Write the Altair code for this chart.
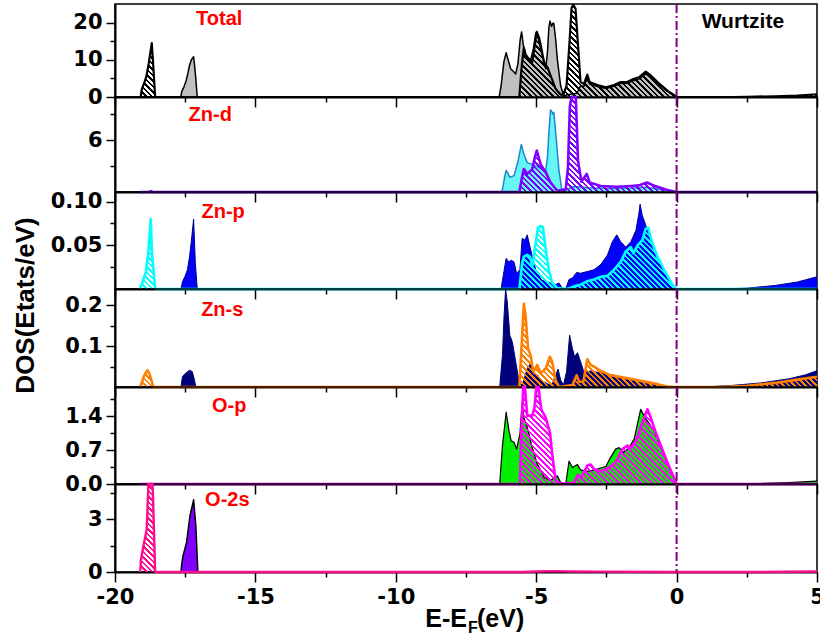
import json
import altair as alt
import pandas as pd

# ---------------- data: (E-EF, DOS) ----------------
TOTAL_SOLID = [(-19.1, 0), (-17.66, 0), (-17.62, 1.5), (-17.55, 2.6), (-17.47, 4.3), (-17.4, 6.5), (-17.35, 8.4),
               (-17.28, 10.0), (-17.2, 10.8), (-17.14, 6.5), (-17.07, 0), (-6.32, 0), (-6.25, 3), (-6.15, 9.5),
               (-6.07, 11.9), (-6.0, 10), (-5.91, 7.6), (-5.8, 6.8), (-5.73, 6.2), (-5.65, 9), (-5.57, 15.5),
               (-5.52, 17.5), (-5.46, 14), (-5.38, 11.6), (-5.28, 10.5), (-5.2, 9.8), (-5.1, 13), (-5.02, 17),
               (-4.98, 17.5), (-4.9, 15), (-4.84, 13), (-4.75, 10), (-4.66, 7.6), (-4.6, 12), (-4.55, 18.5),
               (-4.51, 20.4), (-4.45, 19), (-4.4, 19.9), (-4.37, 19.7), (-4.3, 15), (-4.25, 10.3), (-4.18, 6),
               (-4.13, 3), (-4.05, 1), (-3.98, 0.3), (-3.9, 0.6), (-3.75, 0.8), (-3.55, 1.0), (-3.42, 3.0),
               (-3.3, 2.8), (-3.18, 5.2), (-3.1, 3.5), (-2.82, 2.8), (-2.52, 2.3), (-2.23, 2.9), (-1.99, 3.6),
               (-1.75, 3.7), (-1.51, 4.5), (-1.34, 4.8), (-1.1, 6.2), (-0.92, 5.3), (-0.68, 3.6), (-0.33, 1.5),
               (-0.03, 0.1), (0.0, 0), (5.0, 0)]
TOTAL_HATCH = [(-19.1, 0), (-19.08, 0.3), (-19.05, 2.0), (-18.95, 4.0), (-18.88, 5.6), (-18.8, 9), (-18.73, 12.5),
               (-18.69, 14.5), (-18.65, 10), (-18.57, 0), (-5.6, 0), (-5.52, 8), (-5.44, 13.2), (-5.38, 11.5),
               (-5.32, 10.7), (-5.14, 9.4), (-5.05, 14), (-4.98, 17.5), (-4.9, 16), (-4.84, 13.9), (-4.72, 9.4),
               (-4.6, 8), (-4.49, 5.8), (-4.31, 2.2), (-4.15, 0.8), (-4.05, 0.4), (-3.92, 3), (-3.82, 14),
               (-3.74, 24), (-3.68, 24.8), (-3.6, 23.8), (-3.51, 13.9), (-3.42, 4.0), (-3.3, 3.5), (-3.18, 6.0),
               (-3.1, 4.0), (-2.82, 3.2), (-2.52, 2.6), (-2.23, 3.2), (-1.99, 4.0), (-1.75, 4.1), (-1.51, 4.9),
               (-1.34, 5.3), (-1.1, 6.8), (-0.92, 5.8), (-0.68, 4.0), (-0.33, 1.7), (-0.03, 0.2), (0, 0),
               (2.0, 0), (2.5, 0.05), (3.5, 0.2), (4.3, 0.4), (5, 0.7)]
ZND_SOLID = [(-19.1, 0), (-6.25, 0), (-6.2, 0.3), (-6.12, 1.8), (-6.07, 2.5), (-6.0, 2.1), (-5.94, 1.7),
             (-5.79, 1.9), (-5.65, 3.5), (-5.53, 5.5), (-5.44, 4.4), (-5.32, 3.4), (-5.14, 3.2), (-5.0, 3.0),
             (-4.84, 2.7), (-4.66, 2.5), (-4.6, 4), (-4.55, 6.7), (-4.49, 9.5), (-4.44, 9.3), (-4.4, 9.0),
             (-4.37, 9.2), (-4.28, 5.9), (-4.19, 2.5), (-4.1, 0.5), (-4.05, 0.1), (-3.9, 0.3), (-3.7, 0.6),
             (-3.5, 0.6), (-3.2, 0.5), (-2.5, 0.4), (-1.5, 0.45), (-1.1, 0.55), (-0.5, 0.3), (0, 0), (5, 0)]
ZND_HATCH = [(-19.1, 0), (-18.8, 0), (-18.72, 0.1), (-18.65, 0), (-5.6, 0), (-5.5, 1.8), (-5.44, 2.65),
             (-5.32, 2.1), (-5.14, 2.65), (-5.05, 4.0), (-4.98, 4.8), (-4.84, 3.2), (-4.66, 2.3), (-4.49, 1.1),
             (-4.25, 0.15), (-3.95, 0.3), (-3.87, 2.8), (-3.8, 10), (-3.74, 14), (-3.66, 14.5), (-3.59, 12),
             (-3.51, 3.6), (-3.39, 1.2), (-3.2, 2.1), (-3.1, 1.1), (-2.7, 0.7), (-2.11, 0.6), (-1.63, 0.7),
             (-1.34, 0.77), (-1.06, 1.1), (-0.8, 0.73), (-0.33, 0.23), (0, 0), (5, 0)]
ZNP_SOLID = [(-19.1, 0), (-17.65, 0), (-17.6, 0.008), (-17.5, 0.015), (-17.42, 0.022), (-17.35, 0.036),
             (-17.28, 0.055), (-17.2, 0.08), (-17.14, 0.03), (-17.07, 0), (-6.25, 0), (-6.15, 0.02),
             (-6.07, 0.035), (-5.97, 0.031), (-5.89, 0.033), (-5.79, 0.031), (-5.7, 0.018), (-5.58, 0.022),
             (-5.5, 0.058), (-5.4, 0.056), (-5.32, 0.062), (-5.22, 0.048), (-5.14, 0.037), (-5.0, 0.02),
             (-4.8, 0.01), (-4.6, 0.008), (-4.49, 0.007), (-4.31, 0.005), (-4.19, 0.007), (-4.07, 0.001),
             (-3.95, 0.0), (-3.83, 0.011), (-3.71, 0.0125), (-3.56, 0.019), (-3.42, 0.018), (-3.18, 0.02),
             (-2.94, 0.022), (-2.7, 0.028), (-2.46, 0.039), (-2.29, 0.054), (-2.13, 0.062), (-1.99, 0.054),
             (-1.81, 0.048), (-1.63, 0.054), (-1.45, 0.067), (-1.35, 0.085), (-1.3, 0.097), (-1.22, 0.084),
             (-1.1, 0.073), (-0.92, 0.056), (-0.68, 0.037), (-0.44, 0.02), (-0.15, 0.003), (0, 0), (1.5, 0),
             (2.5, 0.001), (3.5, 0.004), (4.3, 0.008), (5, 0.014)]
ZNP_HATCH = [(-19.1, 0), (-19.08, 0.003), (-19.0, 0.01), (-18.9, 0.02), (-18.82, 0.04), (-18.76, 0.065),
             (-18.73, 0.08), (-18.68, 0.04), (-18.57, 0), (-5.6, 0), (-5.5, 0.03), (-5.44, 0.037),
             (-5.32, 0.039), (-5.22, 0.037), (-5.14, 0.026), (-5.02, 0.052), (-4.94, 0.07), (-4.84, 0.072),
             (-4.76, 0.071), (-4.66, 0.045), (-4.55, 0.022), (-4.43, 0.007), (-4.25, 0.001), (-3.89, 0),
             (-3.65, 0.003), (-3.42, 0.005), (-3.18, 0.009), (-2.94, 0.011), (-2.7, 0.014), (-2.46, 0.015),
             (-2.23, 0.022), (-1.99, 0.031), (-1.81, 0.043), (-1.63, 0.048), (-1.54, 0.041), (-1.39, 0.05),
             (-1.22, 0.056), (-1.1, 0.069), (-1.01, 0.07), (-0.86, 0.052), (-0.68, 0.037), (-0.44, 0.022),
             (-0.15, 0.005), (0, 0), (5, 0)]
ZNS_SOLID = [(-19.1, 0), (-17.65, 0), (-17.6, 0.025), (-17.5, 0.033), (-17.35, 0.041), (-17.25, 0.038),
             (-17.18, 0.02), (-17.12, 0), (-6.3, 0), (-6.2, 0.08), (-6.15, 0.167), (-6.09, 0.24), (-6.03, 0.208),
             (-5.94, 0.127), (-5.85, 0.11), (-5.73, 0.062), (-5.61, 0.013), (-5.5, 0.005), (-5.32, 0.045),
             (-5.2, 0.058), (-5.1, 0.03), (-4.96, 0.03), (-4.8, 0.015), (-4.6, 0.008), (-4.45, 0.003),
             (-4.31, 0.029), (-4.22, 0.044), (-4.13, 0.017), (-4.03, 0.005), (-3.92, 0.037), (-3.81, 0.127),
             (-3.71, 0.094), (-3.63, 0.074), (-3.53, 0.084), (-3.42, 0.062), (-3.3, 0.036), (-3.06, 0.039),
             (-2.82, 0.036), (-2.52, 0.031), (-2.23, 0.029), (-1.87, 0.023), (-1.28, 0.013), (-0.68, 0.005),
             (-0.2, 0.001), (0, 0), (1.0, 0), (2.0, 0.004), (3.0, 0.01), (4.0, 0.02), (4.6, 0.03), (5, 0.04)]
ZNS_HATCH = [(-19.1, 0), (-19.05, 0.01), (-18.98, 0.025), (-18.9, 0.036), (-18.84, 0.041), (-18.76, 0.03),
             (-18.63, 0), (-5.6, 0), (-5.5, 0.127), (-5.44, 0.204), (-5.38, 0.176), (-5.29, 0.094),
             (-5.2, 0.078), (-5.1, 0.037), (-4.96, 0.054), (-4.84, 0.033), (-4.66, 0.046), (-4.51, 0.074),
             (-4.43, 0.062), (-4.31, 0.017), (-4.19, 0.0), (-3.71, 0.005), (-3.56, 0.029), (-3.47, 0.013),
             (-3.32, 0.013), (-3.18, 0.068), (-3.06, 0.054), (-2.94, 0.05), (-2.7, 0.039), (-2.35, 0.029),
             (-1.87, 0.023), (-1.28, 0.015), (-0.68, 0.007), (-0.33, 0.001), (0, 0), (1.5, 0), (2.5, 0.003),
             (3.5, 0.01), (4.3, 0.018), (5, 0.025)]
OP_SOLID = [(-19.1, 0), (-6.3, 0), (-6.2, 0.8), (-6.07, 1.48), (-5.97, 1.1), (-5.89, 0.89), (-5.79, 0.86),
            (-5.7, 0.72), (-5.58, 1.03), (-5.5, 1.68), (-5.44, 1.37), (-5.32, 1.17), (-5.14, 0.75),
            (-4.96, 0.41), (-4.72, 0.14), (-4.49, 0.07), (-4.25, 0.17), (-4.13, 0.03), (-3.95, 0.0),
            (-3.83, 0.47), (-3.71, 0.34), (-3.53, 0.4), (-3.42, 0.29), (-3.24, 0.26), (-3.06, 0.27),
            (-2.82, 0.31), (-2.52, 0.36), (-2.35, 0.55), (-2.17, 0.72), (-2.05, 0.75), (-1.89, 0.65),
            (-1.69, 0.75), (-1.51, 0.93), (-1.28, 1.54), (-1.16, 1.41), (-1.04, 1.3), (-0.8, 1.1),
            (-0.56, 0.75), (-0.27, 0.34), (0, 0), (1.5, 0), (3, 0.01), (4, 0.03), (5, 0.06)]
OP_HATCH = [(-19.1, 0), (-5.58, 0), (-5.52, 1.2), (-5.46, 2.1), (-5.4, 2.1), (-5.32, 1.41), (-5.14, 1.41),
            (-5.06, 1.58), (-5.0, 2.1), (-4.92, 2.1), (-4.82, 1.54), (-4.66, 1.37), (-4.51, 1.06),
            (-4.43, 0.62), (-4.31, 0.07), (-4.1, 0.0), (-3.65, 0.03), (-3.51, 0.19), (-3.4, 0.12),
            (-3.18, 0.38), (-3.06, 0.4), (-2.94, 0.31), (-2.7, 0.26), (-2.4, 0.34), (-2.17, 0.45),
            (-1.93, 0.72), (-1.75, 0.79), (-1.63, 0.75), (-1.45, 0.89), (-1.28, 1.17), (-1.04, 1.54),
            (-0.92, 1.37), (-0.74, 1.06), (-0.56, 0.79), (-0.33, 0.45), (0, 0), (5, 0)]
O2S_SOLID = [(-19.1, 0), (-17.65, 0), (-17.62, 0.5), (-17.58, 0.9), (-17.45, 1.7), (-17.33, 3.2), (-17.2, 4.1),
             (-17.12, 2.6), (-17.05, 0), (5, 0)]
O2S_HATCH = [(-19.1, 0), (-19.08, 0.64), (-19.01, 1.3), (-18.87, 2.43), (-18.81, 6), (-18.74, 9), (-18.66, 9),
             (-18.57, 0), (-5.5, 0), (-5.0, 0.03), (-4.4, 0.05), (-3.8, 0.03), (-3.0, 0.02), (0, 0), (3, 0),
             (5, 0.03)]

PANEL_NAMES = ["Total", "Zn-d", "Zn-p", "Zn-s", "O-p", "O-2s"]
PANEL_NAME_X = [-16.29, -16.61, -16.15, -16.18, -15.93, -16.0]
PANEL_YMAX = [25, 11, 0.111, 0.24, 2.0, 5.0]
Y_MAJOR = [[0, 10, 20], [6], [0.05, 0.10], [0.1, 0.2], [0.0, 0.7, 1.4], [0, 3]]
Y_MINOR = [[5, 15], [3, 9], [0.025, 0.075], [0.05, 0.15], [0.35, 1.05, 1.75], [1.5, 4.5]]
Y_FORMAT = ["d", "d", ".2f", ".1f", ".1f", "d"]
X_MAJOR = [-20, -15, -10, -5, 0, 5]
X_MINOR = [-17.5, -12.5, -7.5, -2.5, 2.5]
SERIES = [(TOTAL_SOLID, TOTAL_HATCH), (ZND_SOLID, ZND_HATCH), (ZNP_SOLID, ZNP_HATCH),
          (ZNS_SOLID, ZNS_HATCH), (OP_SOLID, OP_HATCH), (O2S_SOLID, O2S_HATCH)]

# ---------------- styles / layout ----------------
PLOT_W = 702
PANEL_H = [93, 95, 97, 98, 97, 88]
NAME_Y = [21, 24, 26, 27, 25, 22]
SOLID_FILL = ["#C0C0C0", "#66F6F6", "#0000FF", "#00007A", "#00F000", "#7F00FF"]
SOLID_LINE = ["#000000", "#1E88CC", "#00008B", "#00007A", "#000000", "#000000"]
SOLID_LW = [1.5, 1.5, 1.0, 1.0, 1.2, 1.5]
HATCH_COL = ["#000000", "#8000FF", "#00FFFF", "#FF8000", "#FF00FF", "#FF0A8C"]
HATCH_LW = [2.2, 2.6, 2.6, 2.6, 2.6, 2.4]
BOLD = "Liberation Sans"
TICKFONT = "DejaVu Sans"


def hatch_fill(color, pts, ymax, h, period=5.5, frac=0.45):
    xs = [p[0] for p in pts]
    ys = [p[1] for p in pts]
    W = (max(xs) - min(xs)) * PLOT_W / 25.0
    H = max(min(max(ys), ymax) / ymax * h, 1.0)
    t = (W + H) / (W * W + H * H)
    n = (W + H) / period
    clear = "rgba(255,255,255,0)"
    stops = []
    i = 0
    while i / n < 1:
        o0 = i / n
        o1 = min((i + frac) / n, 1.0)
        o2 = min((i + 1) / n, 1.0)
        stops += [alt.GradientStop(offset=o0, color=color), alt.GradientStop(offset=o1, color=color),
                  alt.GradientStop(offset=o1, color=clear), alt.GradientStop(offset=o2, color=clear)]
        i += 1
    return alt.LinearGradient(gradient="linear", stops=stops, x1=0, y1=1, x2=t * W, y2=1 - t * H)


def axis_parts(major, minor, big, small):
    test = "indexof(%s, datum.value) >= 0" % json.dumps(minor)
    return dict(values=sorted(major + minor),
                labelExpr=f"{test} ? '' : replace(datum.label, '\u2212', '-')",
                tickSize={"condition": {"test": test, "value": small}, "value": big})


panels = []
for k in range(6):
    last = k == 5
    xa = axis_parts(X_MAJOR, X_MINOR, 10, 5)
    x_axis = alt.Axis(**xa, labels=last, title=None, format="d", domainWidth=2, domainColor="black",
                      tickColor="black", tickWidth=1.5, labelFont=TICKFONT, labelFontWeight="bold",
                      labelFontSize=21, labelColor="black", labelPadding=4, labelFlush=False,
                      labelOverlap=False, grid=False)
    ya = axis_parts(Y_MAJOR[k], Y_MINOR[k], 9, 5)
    ykw = dict(title=None)
    if k == 3:
        ykw = dict(title="DOS(Etats/eV)", titleFont=BOLD, titleFontSize=26, titleFontWeight="bold",
                   titleColor="black", titleX=-82, titleY=16, titleBaseline="alphabetic", titleAlign="center",
                   titleAngle=-90)
    y_axis = alt.Axis(**ya, **ykw, format=Y_FORMAT[k], domainWidth=2, domainColor="black", tickColor="black",
                      tickWidth=1.5, labelFont=TICKFONT, labelFontWeight="bold", labelFontSize=21,
                      labelColor="black", labelPadding=4, labelFlush=False, labelOverlap=False, grid=False)
    X = alt.X("x:Q", scale=alt.Scale(domain=[-20, 5], nice=False, zero=False), axis=x_axis)
    Y = alt.Y("y:Q", scale=alt.Scale(domain=[0, PANEL_YMAX[k]], nice=False, clamp=True), axis=y_axis)

    solid, hatch = SERIES[k]
    ds = pd.DataFrame(solid, columns=["x", "y"])
    dh = pd.DataFrame(hatch, columns=["x", "y"])
    layers = [
        alt.Chart(ds).mark_area(color=SOLID_FILL[k], opacity=1).encode(x=X, y=Y),
        alt.Chart(ds).mark_line(color=SOLID_LINE[k], strokeWidth=SOLID_LW[k], strokeJoin="round").encode(x=X, y=Y),
        alt.Chart(dh).mark_area(fill=hatch_fill(HATCH_COL[k], hatch, PANEL_YMAX[k], PANEL_H[k]),
                                opacity=1).encode(x=X, y=Y),
        alt.Chart(dh).mark_line(color=HATCH_COL[k], strokeWidth=HATCH_LW[k], strokeJoin="round").encode(x=X, y=Y),
        alt.Chart(pd.DataFrame({"x": [0]})).mark_rule(color="#800080", strokeWidth=2,
                                                      strokeDash=[9, 3, 2, 3]).encode(x=alt.datum(0)),
        alt.Chart(pd.DataFrame({"t": [PANEL_NAMES[k]]})).mark_text(
            font=BOLD, fontWeight="bold", fontSize=20, color="#FF0000", align="center", baseline="alphabetic"
        ).encode(x=alt.datum(PANEL_NAME_X[k]), y=alt.value(NAME_Y[k]), text="t:N"),
    ]
    if k == 0:
        layers.append(alt.Chart(pd.DataFrame({"t": ["Wurtzite"]})).mark_text(
            font=BOLD, fontWeight="bold", fontSize=21, color="black", align="center", baseline="alphabetic"
        ).encode(x=alt.datum(2.36), y=alt.value(24), text="t:N"))
    if last:
        layers += [
            alt.Chart(pd.DataFrame({"t": ["E-E"]})).mark_text(
                font=BOLD, fontWeight="bold", fontSize=25, color="black", align="right", baseline="alphabetic"
            ).encode(x=alt.value(352), y=alt.value(143), text="t:N"),
            alt.Chart(pd.DataFrame({"t": ["F"]})).mark_text(
                font=BOLD, fontWeight="bold", fontSize=16, color="black", align="left", baseline="alphabetic"
            ).encode(x=alt.value(353), y=alt.value(149), text="t:N"),
            alt.Chart(pd.DataFrame({"t": ["(eV)"]})).mark_text(
                font=BOLD, fontWeight="bold", fontSize=25, color="black", align="left", baseline="alphabetic"
            ).encode(x=alt.value(362), y=alt.value(143), text="t:N"),
        ]
    panels.append(alt.layer(*layers).properties(width=PLOT_W, height=PANEL_H[k]))

chart = alt.vconcat(*panels, spacing=0, bounds="flush").properties(
    padding={"left": 11, "top": 2, "right": -6, "bottom": 0}, background="white"
).configure_view(stroke="black", strokeWidth=1.5)

chart.save("out.html", embed_options={"renderer": "svg", "actions": False})
